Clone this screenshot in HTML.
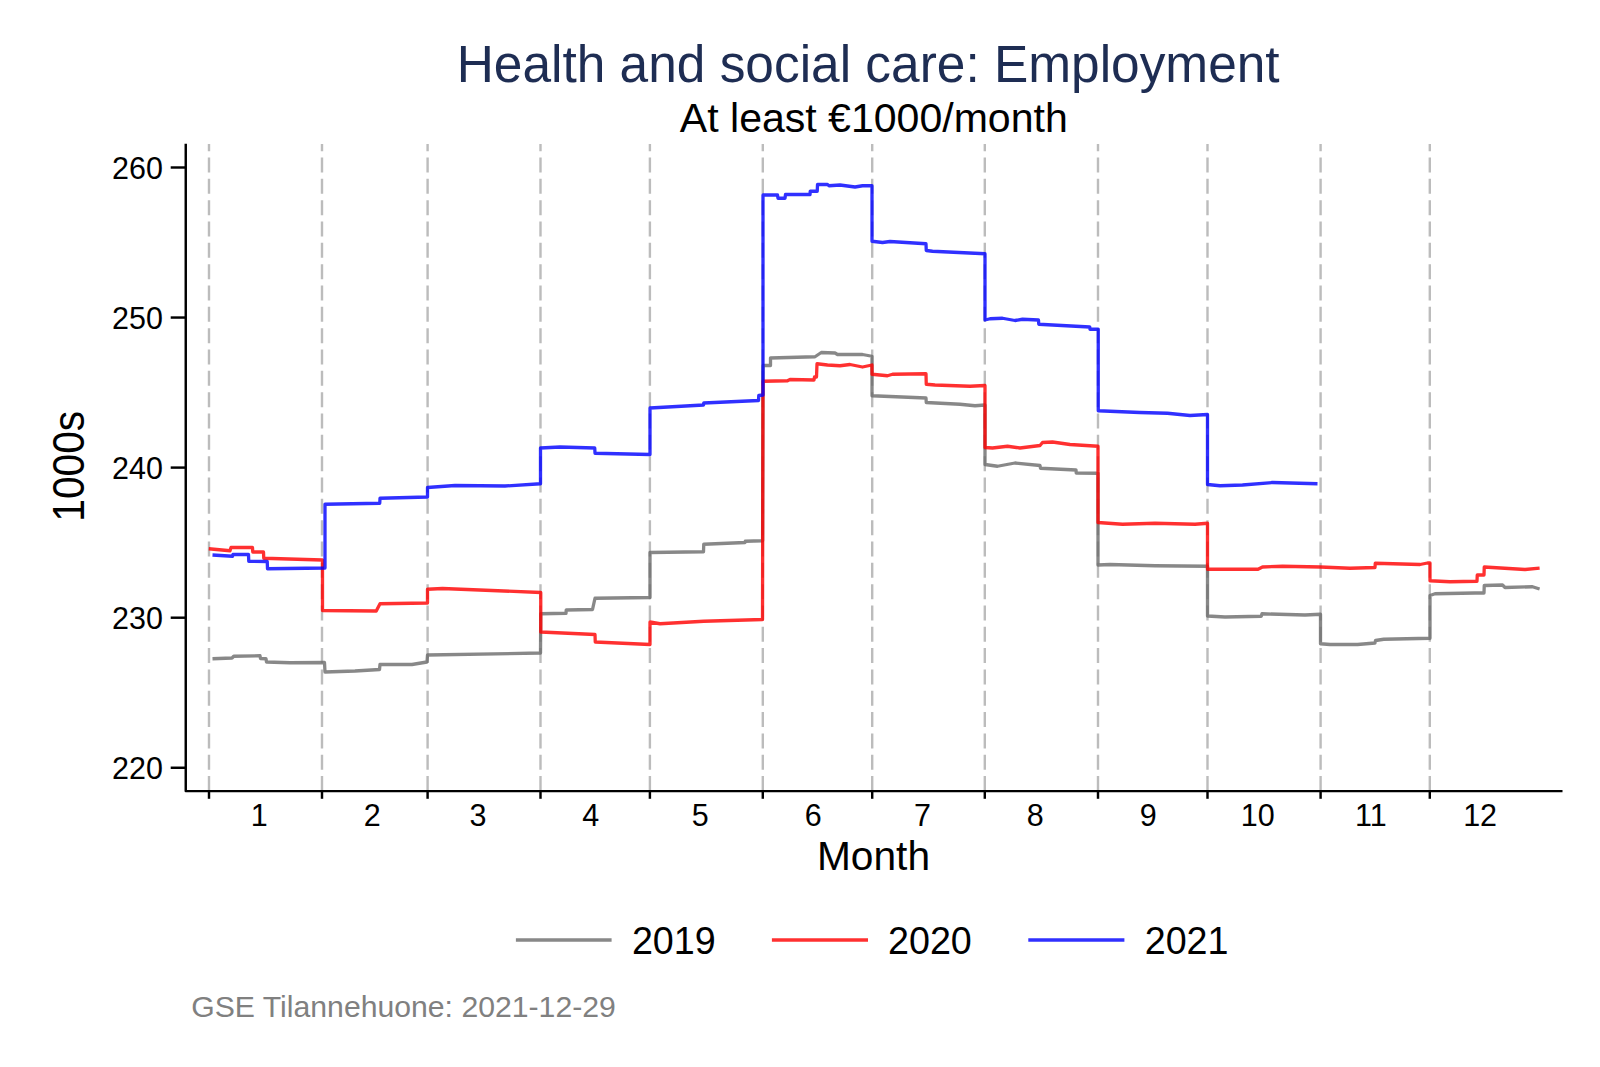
<!DOCTYPE html>
<html><head><meta charset="utf-8"><title>Health and social care: Employment</title>
<style>
html,body{margin:0;padding:0;background:#fff;}
svg{display:block;}
text{font-family:"Liberation Sans",Arial,sans-serif;}
</style></head><body>
<svg width="1600" height="1067" viewBox="0 0 1600 1067">
<rect width="1600" height="1067" fill="#fff"/>

<g stroke="#bcbcbc" stroke-width="2.4" stroke-dasharray="15 6.33" fill="none">
<line x1="209" y1="791.1" x2="209" y2="143.9"/>
<line x1="322" y1="791.1" x2="322" y2="143.9"/>
<line x1="427.6" y1="791.1" x2="427.6" y2="143.9"/>
<line x1="540.5" y1="791.1" x2="540.5" y2="143.9"/>
<line x1="649.9" y1="791.1" x2="649.9" y2="143.9"/>
<line x1="762.8" y1="791.1" x2="762.8" y2="143.9"/>
<line x1="872.2" y1="791.1" x2="872.2" y2="143.9"/>
<line x1="984.8" y1="791.1" x2="984.8" y2="143.9"/>
<line x1="1098" y1="791.1" x2="1098" y2="143.9"/>
<line x1="1207.5" y1="791.1" x2="1207.5" y2="143.9"/>
<line x1="1320.6" y1="791.1" x2="1320.6" y2="143.9"/>
<line x1="1429.8" y1="791.1" x2="1429.8" y2="143.9"/>
</g>
<g stroke="#000" stroke-width="2.45" fill="none" stroke-linecap="butt">
<path d="M185.75,143.7 V791.1 H1562.5" stroke-linejoin="round"/>
<line x1="170.7" y1="167.5" x2="185.75" y2="167.5"/>
<line x1="170.7" y1="317.55" x2="185.75" y2="317.55"/>
<line x1="170.7" y1="467.6" x2="185.75" y2="467.6"/>
<line x1="170.7" y1="617.7" x2="185.75" y2="617.7"/>
<line x1="170.7" y1="767.75" x2="185.75" y2="767.75"/>
<line x1="209" y1="791.1" x2="209" y2="798.8"/>
<line x1="322" y1="791.1" x2="322" y2="798.8"/>
<line x1="427.6" y1="791.1" x2="427.6" y2="798.8"/>
<line x1="540.5" y1="791.1" x2="540.5" y2="798.8"/>
<line x1="649.9" y1="791.1" x2="649.9" y2="798.8"/>
<line x1="762.8" y1="791.1" x2="762.8" y2="798.8"/>
<line x1="872.2" y1="791.1" x2="872.2" y2="798.8"/>
<line x1="984.8" y1="791.1" x2="984.8" y2="798.8"/>
<line x1="1098" y1="791.1" x2="1098" y2="798.8"/>
<line x1="1207.5" y1="791.1" x2="1207.5" y2="798.8"/>
<line x1="1320.6" y1="791.1" x2="1320.6" y2="798.8"/>
<line x1="1429.8" y1="791.1" x2="1429.8" y2="798.8"/>
</g>
<path d="M212.5,658.75 L232,658 L233.75,656.25 L260,655.75 L260.5,658.5 L266,658.75 L266.5,662 L290,662.75 L324.5,662.5 L325,672 L355,671 L379.5,669.5 L380,664.5 L412,664.5 L427,662 L427.5,655 L540.5,653 L540.75,613.75 L566,613.25 L566.25,610 L592.5,609.5 L595,598.25 L650,597.5 L650,552.5 L703.5,551.75 L703.75,544.25 L745,542.5 L745.25,541.25 L762.6,540.75 L763,365.5 L770.5,365.5 L770.5,358 L815,356.75 L821.25,352.5 L835,353 L837.5,354.5 L862.5,354.5 L872,356.25 L872,395.75 L926,398 L926.25,402.5 L960,404.25 L975,405.75 L985,405 L985,464.5 L997.5,466.25 L1015,463 L1040,465.5 L1040.5,468.25 L1076,470 L1076.25,473 L1098,473.25 L1098,565 L1110,564.5 L1155,565.75 L1207.5,566.25 L1207.5,616 L1225,617 L1261.25,616.25 L1262,613.75 L1305,615 L1320.5,614.25 L1320.5,643.75 L1330,644.5 L1357.5,644.5 L1375,643 L1375.5,640.5 L1383.75,639.25 L1430,638.25 L1430,595.5 L1435,593.75 L1475,593 L1484,593 L1484.25,585.5 L1502.5,585 L1505,587.5 L1532.5,586.75 L1539.6,589" fill="none" stroke="#6a6a6a" stroke-opacity="0.8" stroke-width="3.3" stroke-linejoin="round"/>
<path d="M208.75,548.75 L230,550.75 L231,547.5 L252.5,547.5 L252.75,552 L263.5,552 L263.75,558.25 L322.5,560 L322.5,610.5 L376.25,611 L380,603.75 L427.5,603 L427.5,589.25 L442.5,588.5 L540.75,592.5 L540.75,632 L595,634.5 L595.25,642 L650,644.5 L650,622 L660,623.75 L703.75,621.25 L762.5,619.5 L763,381.25 L787.5,380.75 L790,379.5 L814,380 L814.5,377 L816.5,377 L817,363.75 L827.5,365 L840,365.75 L850,364.5 L862.5,367 L872,365 L872,374.25 L887.5,375.75 L892.5,374.25 L926,373.75 L926.25,384.25 L935,385 L970,386.25 L985,385.5 L985,447.5 L992.5,448 L1007.5,446.25 L1020,448 L1040,445.5 L1042.5,442.5 L1052.5,442 L1070,444.5 L1098,446.25 L1098,522.5 L1122.5,524.25 L1155,523.25 L1195,524.25 L1207.5,523.25 L1207.5,569.25 L1258,569.25 L1262.5,567 L1282.5,566.25 L1320.5,567 L1350,568.25 L1375,567.5 L1375.25,563.25 L1420,564.5 L1427.5,563 L1430,563 L1430,580.75 L1450,581.75 L1477,581.25 L1477.25,575 L1484,575 L1484.25,567 L1525,569.5 L1539.6,568.2" fill="none" stroke="#ff0000" stroke-opacity="0.81" stroke-width="3.3" stroke-linejoin="round"/>
<path d="M212.5,555 L232.5,556.25 L233,554.5 L248.5,554.5 L248.75,561.25 L267.25,561.5 L267.5,568.75 L325,568 L325,504.25 L379.75,503.25 L380,498.25 L427.5,497 L427.5,487.5 L455,485.5 L505,486 L540.5,483.75 L540.5,448 L560,447 L594.75,448 L595,453.25 L650,454.5 L650,408 L703.5,405 L703.75,403 L758.5,400.5 L758.75,395.5 L763,395 L763,195 L777.5,195 L778,198.25 L785,198.25 L785.5,194.5 L810,194.5 L810.25,191.25 L817.25,191.25 L817.5,184.5 L827.5,184.5 L829,185.75 L840,185 L855,187 L862.5,185.75 L872,185.75 L872,241.25 L882.5,242.5 L890,241.5 L926,243.75 L926.25,250.5 L932.5,251.25 L985,253.75 L985,320 L990,318.75 L1002.5,318.25 L1015,320.5 L1022.5,319.25 L1038.5,320 L1038.75,324.25 L1089.75,327 L1090,329.25 L1098.25,329.25 L1098.25,410.75 L1139.75,412.5 L1167.5,413.25 L1190,415.5 L1207.5,414.5 L1207.5,484.5 L1220,485.75 L1242.5,485 L1272.5,482.5 L1317.5,483.75" fill="none" stroke="#0000ff" stroke-opacity="0.81" stroke-width="3.3" stroke-linejoin="round"/>
<text x="868.2" y="81.9" font-size="51.42" text-anchor="middle" fill="#1e2d53">Health and social care: Employment</text>
<text x="873.8" y="131.5" font-size="41.05" text-anchor="middle" fill="#000">At least €1000/month</text>
<g font-size="30.5" fill="#000" text-anchor="end">
<text transform="translate(163,178.95) scale(1,1.015)">260</text>
<text transform="translate(163,329) scale(1,1.015)">250</text>
<text transform="translate(163,479.05) scale(1,1.015)">240</text>
<text transform="translate(163,629.15) scale(1,1.015)">230</text>
<text transform="translate(163,779.2) scale(1,1.015)">220</text>
</g>
<g font-size="30.5" fill="#000" text-anchor="middle">
<text transform="translate(259.3,825.7) scale(1,1.01)">1</text>
<text transform="translate(372.3,825.7) scale(1,1.01)">2</text>
<text transform="translate(477.9,825.7) scale(1,1.01)">3</text>
<text transform="translate(590.8,825.7) scale(1,1.01)">4</text>
<text transform="translate(700.2,825.7) scale(1,1.01)">5</text>
<text transform="translate(813.1,825.7) scale(1,1.01)">6</text>
<text transform="translate(922.5,825.7) scale(1,1.01)">7</text>
<text transform="translate(1035.1,825.7) scale(1,1.01)">8</text>
<text transform="translate(1148.3,825.7) scale(1,1.01)">9</text>
<text transform="translate(1257.8,825.7) scale(1,1.01)">10</text>
<text transform="translate(1370.9,825.7) scale(1,1.01)">11</text>
<text transform="translate(1480.1,825.7) scale(1,1.01)">12</text>
</g>
<text x="873.5" y="870.4" font-size="40.7" text-anchor="middle" fill="#000">Month</text>
<text transform="translate(83.9,466.3) rotate(-90) scale(1,1.07)" font-size="40.7" text-anchor="middle" fill="#000">1000s</text>
<g stroke-width="3.3" stroke-opacity="0.81">
<line x1="515.9" y1="940" x2="611.6" y2="940" stroke="#6a6a6a" stroke-opacity="0.8"/>
<line x1="771.9" y1="940" x2="868" y2="940" stroke="#ff0000"/>
<line x1="1028.3" y1="940" x2="1124.4" y2="940" stroke="#0000ff"/>
</g>
<g font-size="37.7" fill="#000">
<text transform="translate(631.9,954.4) scale(1,1.02)">2019</text>
<text transform="translate(888,954.4) scale(1,1.02)">2020</text>
<text transform="translate(1144.7,954.4) scale(1,1.02)">2021</text>
</g>
<text x="191.2" y="1016.8" font-size="30.2" fill="#808080">GSE Tilannehuone: 2021-12-29</text>
</svg></body></html>
